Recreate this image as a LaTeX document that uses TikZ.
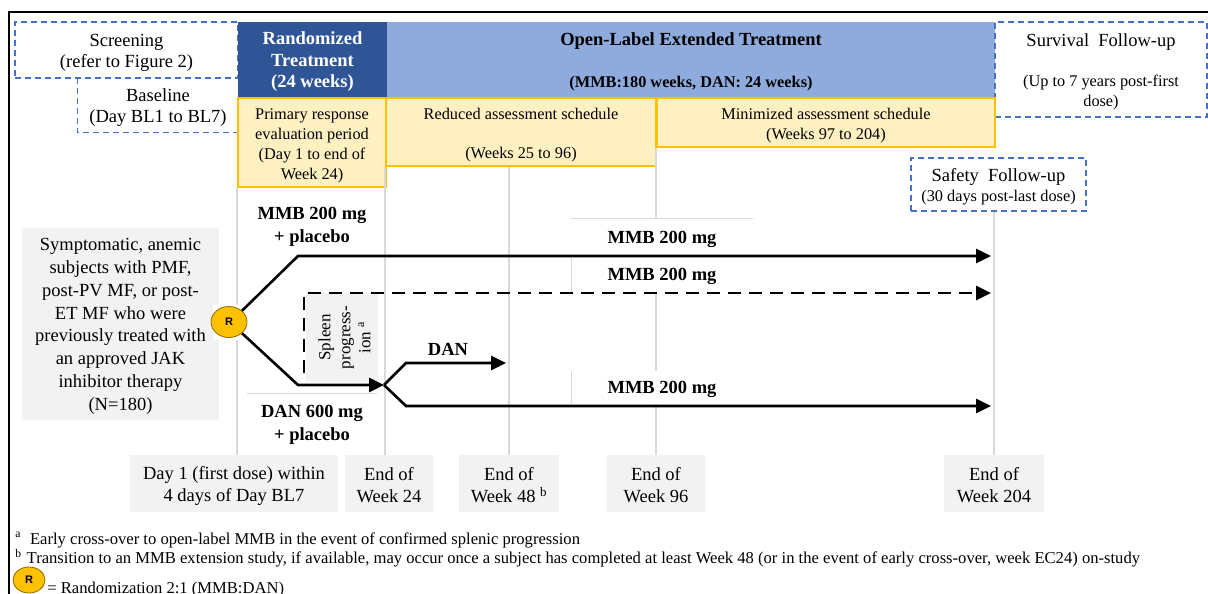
\documentclass[tikz,border=0pt]{standalone}
\usepackage{fontspec}
\setmainfont{Liberation Serif}
\newfontfamily\rfont{Liberation Sans}
\usepackage{xcolor}
\usetikzlibrary{arrows.meta,shapes.geometric}

\definecolor{darkblue}{HTML}{2F5597}
\definecolor{lightblue}{HTML}{8FAADC}
\definecolor{dashblue}{HTML}{4472C4}
\definecolor{schedfill}{HTML}{FFF0C1}
\definecolor{schedline}{HTML}{FFC000}
\definecolor{greyfill}{HTML}{F2F2F2}
\definecolor{greyline}{HTML}{D9D9D9}
\definecolor{rgold}{HTML}{FFC000}

% strut that sets the first line a little lower in its box
\newcommand\dropline{\rule{0pt}{17pt}}

\begin{document}
\begin{tikzpicture}[x=1pt,y=-1pt,>={Triangle[length=15pt,width=14pt]},thick,
  big text/.style={font=\fontsize{18.5}{21}\selectfont},
  small text/.style={font=\fontsize{16.3}{20}\selectfont},
  dash line/.style={draw=dashblue,line width=1.6pt,dash pattern=on 6pt off 4pt},
  dash box/.style={dash line,align=center,inner sep=0pt},
  phase box/.style={align=center,inner sep=0pt,font=\bfseries\fontsize{18.5}{21.5}\selectfont},
  sched box/.style={draw=schedline,fill=schedfill,line width=1.8pt,align=center,inner sep=0pt,small text},
  grey box/.style={fill=greyfill,align=center,inner sep=0pt,font=\fontsize{18.5}{22}\selectfont},
  time line/.style={draw=greyline,line width=1.8pt},
  thin grey/.style={draw=greyline,line width=1.2pt},
  arm/.style={line width=2.6pt},
  arm label/.style={fill=white,align=center,inner sep=0pt,font=\bfseries\fontsize{18.5}{23}\selectfont},
  note/.style={anchor=west,inner sep=0pt,font=\fontsize{16.6}{19}\selectfont},
  rand node/.style={ellipse,draw=rgold!55!black,line width=0.8pt,fill=rgold,inner sep=0pt,font=\rfont\bfseries\fontsize{11}{11}\selectfont}]
\useasboundingbox (0,0) rectangle (1208,594);

% frame
\draw[line width=1.6pt] (9,594) -- (9,12) -- (1208,12);

% study periods
\node[dash box,big text,minimum width=223,minimum height=56] (screen) at (126.5,50) {\dropline Screening\\(refer to Figure 2)};
\node[align=center,inner sep=0pt,big text,minimum width=160,minimum height=54] (base) at (158,105) {\dropline Baseline\\(Day BL1 to BL7)};
\draw[dash line] (base.north west) -- (base.south west) -- (base.south east);
\node[phase box,fill=darkblue,text=white,minimum width=149,minimum height=75] (rand) at (312.5,59.5) {\dropline Randomized\\Treatment\\(24 weeks)};
\node[phase box,fill=lightblue,minimum width=608,minimum height=75] (open) at (691,59.5) {\dropline Open-Label Extended Treatment\\[20pt]{\fontsize{16.3}{20}\selectfont(MMB:180 weeks, DAN: 24 weeks)}};
\node[dash box,small text,minimum width=212,minimum height=95] (surv) at (1101,69.5) {{\fontsize{18.5}{21}\selectfont\dropline Survival\ \ Follow-up}\\[20pt](Up to 7 years post-first\\dose)};

% assessment schedules
\node[sched box,minimum width=148,minimum height=89] (primary) at (312,142.5) {\dropline Primary response\\evaluation period\\(Day 1 to end of\\Week 24)};
\node[sched box,minimum width=270,minimum height=68] (reduced) at (521,132) {\dropline Reduced assessment schedule\\[19pt](Weeks 25 to 96)};
\node[sched box,minimum width=338,minimum height=49] (minimized) at (826,122.5) {\dropline Minimized assessment schedule\\(Weeks 97 to 204)};
\node[dash box,small text,minimum width=175,minimum height=53] (safety) at (998.5,184.5) {{\fontsize{18.5}{21}\selectfont\dropline Safety\ \ Follow-up}\\(30 days post-last dose)};

% population
\node[grey box,font=\fontsize{18.5}{22.9}\selectfont,minimum width=197,minimum height=192] (subjects) at (120.5,324) {\dropline Symptomatic, anemic\\subjects with PMF,\\post-PV MF, or post-\\ET MF who were\\previously treated with\\an approved JAK\\inhibitor therapy\\(N=180)};

% milestones
\node[grey box,minimum width=208,minimum height=57] (day1) at (234,483.5) {\dropline Day 1 (first dose) within\\4 days of Day BL7};
\node[grey box,minimum width=88,minimum height=57] (wk24) at (389,483.5) {\dropline End of\\Week 24};
\node[grey box,minimum width=100,minimum height=57] (wk48) at (509,483.5) {\dropline End of\\Week 48 \textsuperscript{b}};
\node[grey box,minimum width=98,minimum height=57] (wk96) at (656,483.5) {\dropline End of\\Week 96};
\node[grey box,minimum width=100,minimum height=57] (wk204) at (994,483.5) {\dropline End of\\Week 204};

\draw[time line] (primary.south west) -- (primary.south west |- day1.north);
\draw[time line] (reduced.south west) -- (reduced.south west |- wk24.north);
\draw[time line] (wk48.north |- reduced.south) -- (wk48.north);
\draw[time line] (minimized.south west) -- (minimized.south west |- wk96.north);
\draw[time line] (wk204.north |- safety.south) -- (wk204.north);

% treatment arms
\node[arm label,minimum width=129,minimum height=57] (armMMB) at (312,224.5) {\dropline MMB 200 mg\\+ placebo};
\node[arm label,minimum width=129,minimum height=57] (armDAN) at (312,422.5) {\dropline DAN 600 mg\\+ placebo};
\draw[thin grey] (armDAN.north west) -- (armDAN.north east);
\node[arm label,minimum width=181,minimum height=36] (mmbA) at (662,237) {\dropline MMB 200 mg};
\node[arm label,minimum width=181,minimum height=35] (mmbB) at (662,274.5) {\dropline MMB 200 mg};
\node[arm label,minimum width=181,minimum height=33] (mmbC) at (662,387.5) {\dropline MMB 200 mg};
\draw[thin grey] (mmbA.north west) -- (mmbA.north east);
\draw[thin grey] (mmbB.north west) -- (mmbB.south west);
\draw[thin grey] (mmbC.north west) -- (mmbC.south west);
\node[arm label] (dan) at (448,349) {DAN};

\node[grey box,rotate=90,font=\fontsize{17}{20}\selectfont,minimum width=89,minimum height=72] (spleen) at (342,337.5) {\dropline Spleen\\progress-\\ion \textsuperscript{a}};

\node[fill=white,inner sep=0pt,minimum size=35] (Rpad) at (230,322) {};
\node[rand node,minimum width=36,minimum height=31] (R) at (229,322) {R};

\coordinate (bendA) at (298,256);
\coordinate (endA) at (991,256);
\coordinate (dashStart) at (304,373);
\coordinate (dashBend) at (304,293);
\coordinate (endB) at (991,293);
\coordinate (bendC) at (298,385);
\coordinate (fork) at (384,385);
\coordinate (forkUp) at (406,363);
\coordinate (danEnd) at (506,363);
\coordinate (forkDn) at (406,406);
\coordinate (endD) at (991,406);

\draw[arm,->] (R.north east) -- (bendA) -- (endA);
\draw[arm,->,dash pattern=on 13pt off 8pt] (dashStart) -- (dashBend) -- (endB);
\draw[arm,->] (R.south east) -- (bendC) -- (fork);
\draw[arm,->] (fork) -- (forkUp) -- (danEnd);
\draw[arm,->] (fork) -- (forkDn) -- (endD);

% footnotes
\node[note] (noteA) at (15,540) {\textsuperscript{a}\hspace{9pt}Early cross-over to open-label MMB in the event of confirmed splenic progression};
\node[note] (noteB) at (15,558) {\textsuperscript{b}\hspace{5pt}Transition to an MMB extension study, if available, may occur once a subject has completed at least Week 48 (or in the event of early cross-over, week EC24) on-study};
\node[rand node,minimum width=32,minimum height=26] (Rkey) at (29,580) {R};
\node[note] (keytext) at (47,590) {= Randomization 2:1 (MMB:DAN)};
\end{tikzpicture}
\end{document}
